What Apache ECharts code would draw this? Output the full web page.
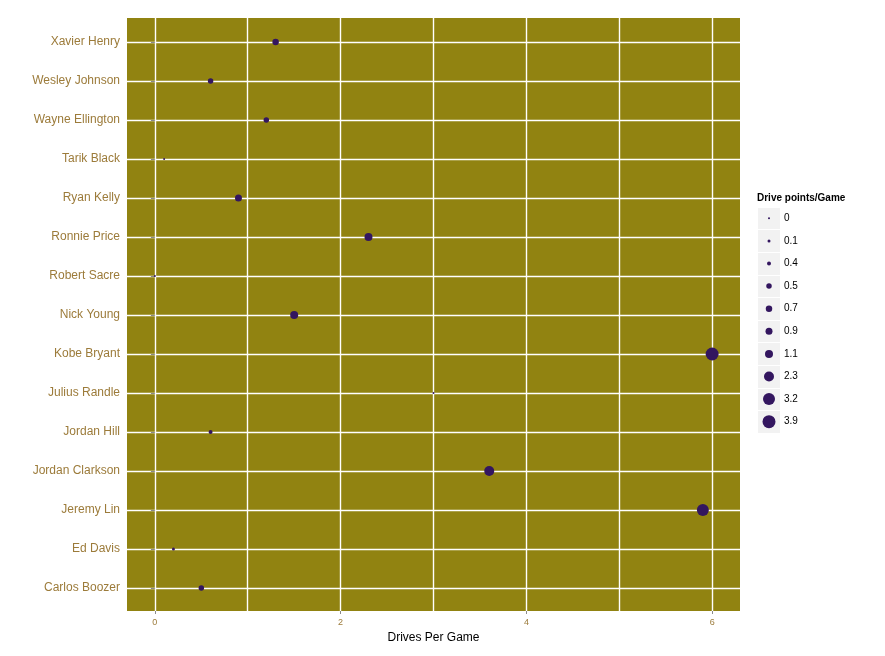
<!DOCTYPE html>
<html>
<head>
<meta charset="utf-8">
<script src="https://cdn.jsdelivr.net/npm/echarts@6/dist/echarts.min.js"></script>
<style>
html,body{margin:0;padding:0;background:#fff;}
#c{width:885px;height:656px;}
</style>
</head>
<body>
<div id="c"></div>
<script>
// ---- data ----
const players = ['Carlos Boozer','Ed Davis','Jeremy Lin','Jordan Clarkson','Jordan Hill','Julius Randle','Kobe Bryant','Nick Young','Robert Sacre','Ronnie Price','Ryan Kelly','Tarik Black','Wayne Ellington','Wesley Johnson','Xavier Henry'];
const drivesPerGame = [0.5, 0.2, 5.9, 3.6, 0.6, 3.0, 6.0, 1.5, 0.0, 2.3, 0.9, 0.1, 1.2, 0.6, 1.3];
const drivePointsPerGame = ['0.5','0.1','3.2','2.3','0.4','0','3.9','1.1','0','1.1','0.9','0','0.5','0.5','0.7'];
const sizeLevels = ['0','0.1','0.4','0.5','0.7','0.9','1.1','2.3','3.2','3.9'];
const xTickLabels = [0, 2, 4, 6];
const xGridValues = [0, 1, 2, 3, 4, 5, 6];

// ---- style ----
const levelDiameters = [2, 3, 4, 5.5, 6.5, 7, 8, 10, 12, 13];
const pointColor = '#33165F';
const panelColor = '#918311';
const labelColor = '#9C7B3A';
const gridLine = {color: '#ffffff', width: 1.4};
const font = 'Liberation Sans, Arial, sans-serif';

const chart = echarts.init(document.getElementById('c'), null, {renderer: 'canvas'});

const sizeOf = (lvl) => levelDiameters[sizeLevels.indexOf(lvl)];

const option = {
  backgroundColor: '#ffffff',
  animation: false,
  textStyle: {fontFamily: font},
  title: {
    text: 'Drive points/Game',
    left: 757, top: 193, padding: 0,
    textStyle: {fontSize: 10, fontWeight: 'bold', color: '#000', fontFamily: font}
  },
  grid: [
    {left: 127, right: 145, top: 18, bottom: 45, show: true, backgroundColor: panelColor, borderWidth: 0, containLabel: false},
    {left: 127, right: 145, top: 42, bottom: 68, containLabel: false},
    {left: 758, width: 22, top: 207, height: 226, containLabel: false}
  ],
  xAxis: [
    { // panel x axis: labels + ticks
      type: 'value', gridIndex: 0, min: -0.3, max: 6.3,
      axisLine: {show: false},
      axisTick: {show: true, length: 3, lineStyle: {color: '#8a8a8a'}, customValues: xTickLabels},
      axisLabel: {show: true, customValues: xTickLabels, color: labelColor, fontSize: 9, margin: 7, fontFamily: font},
      splitLine: {show: false},
      name: 'Drives Per Game', nameLocation: 'middle', nameGap: 20,
      nameTextStyle: {color: '#000', fontSize: 12, fontFamily: font}
    },
    { // data grid x axis
      type: 'value', gridIndex: 1, min: -0.3, max: 6.3,
      axisLine: {show: false}, axisTick: {show: false}, axisLabel: {show: false}, splitLine: {show: false}
    },
    { // legend grid x
      type: 'value', gridIndex: 2, min: -1, max: 1, show: false
    },
    { // vertical gridlines across full panel
      type: 'value', gridIndex: 0, min: -0.3, max: 6.3,
      axisLine: {show: false},
      axisTick: {show: false, customValues: xGridValues},
      axisLabel: {show: false, customValues: xGridValues},
      splitLine: {show: true, lineStyle: gridLine}
    }
  ],
  yAxis: [
    {type: 'value', gridIndex: 0, show: false, min: 0, max: 1},
    {
      type: 'category', gridIndex: 1, data: players, boundaryGap: false,
      axisLine: {show: false},
      axisTick: {show: true, length: 4, lineStyle: {color: '#8a8a8a'}},
      axisLabel: {color: labelColor, fontSize: 12, margin: 7, fontFamily: font},
      splitLine: {show: true, lineStyle: gridLine}
    },
    {
      type: 'category', gridIndex: 2, data: sizeLevels, inverse: true, position: 'right',
      axisLine: {show: false}, axisTick: {show: false},
      axisLabel: {color: '#000', fontSize: 10, margin: 4, fontFamily: font},
      splitLine: {show: true, lineStyle: {color: '#ffffff', width: 1}},
      splitArea: {show: true, areaStyle: {color: ['#f2f2f2', '#f2f2f2']}}
    }
  ],
  series: [
    {
      type: 'scatter', xAxisIndex: 1, yAxisIndex: 1,
      data: players.map((p, i) => [drivesPerGame[i], p, drivePointsPerGame[i]]),
      symbol: 'circle',
      symbolSize: (v) => sizeOf(v[2]),
      itemStyle: {color: pointColor, opacity: 1},
      z: 5
    },
    {
      type: 'scatter', xAxisIndex: 2, yAxisIndex: 2,
      data: sizeLevels.map(l => [0, l]),
      symbol: 'circle',
      symbolSize: (v) => sizeOf(v[1]),
      itemStyle: {color: pointColor, opacity: 1},
      z: 5
    }
  ]
};
chart.setOption(option);
</script>
</body>
</html>
